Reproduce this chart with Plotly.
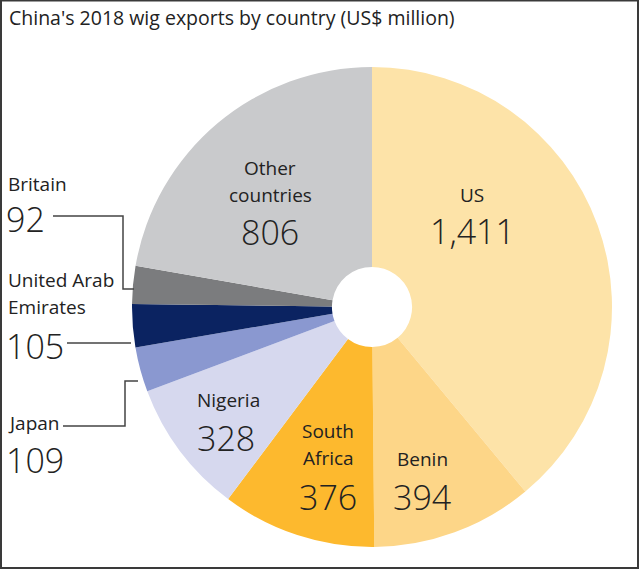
import plotly.graph_objects as go

W, H = 640, 571

countries = ["US", "Benin", "South Africa", "Nigeria", "Japan",
             "United Arab Emirates", "Britain", "Other countries"]
exports = [1411, 394, 376, 328, 109, 105, 92, 806]
colors = ["#FDE3A8", "#FDD688", "#FDB92E", "#D6D8EE", "#8A98D0",
          "#0B2361", "#7B7C7E", "#C9CACC"]

FONT = "Open Sans"
INK = "#222222"


def px(x):
    return x / W


def py(y):
    return 1 - y / H


fig = go.Figure(go.Pie(
    labels=countries, values=exports, sort=False, direction="clockwise",
    rotation=0, hole=0.167, textinfo="none", hoverinfo="label+value",
    marker=dict(colors=colors, line=dict(width=0)),
    domain=dict(x=[px(132), px(612)], y=[py(547), py(67)]),
    showlegend=False,
))

ann = []


def label(x, y, text, size, anchor="center", weight=400):
    ann.append(dict(x=px(x), y=py(y), xref="paper", yref="paper", text=text,
                    showarrow=False, xanchor=anchor, yanchor="middle",
                    font=dict(family=FONT, size=size, color=INK, weight=weight)))


# labels inside slices
label(270, 168, "Other", 19)
label(270, 195, "countries", 19)
label(270, 232, "806", 34, weight=300)
label(472, 195, "US", 19)
label(472, 231, "1,411", 34, weight=300)
label(422, 459, "Benin", 19)
label(422, 497, "394", 34, weight=300)
label(328, 431, "South", 19)
label(328, 458, "Africa", 19)
label(328, 497, "376", 34, weight=300)
label(228, 400, "Nigeria", 19)
label(226, 438, "328", 34, weight=300)

# labels outside
label(6, 184, "Britain", 19, "left")
label(4, 219, "92", 34, "left", 300)
label(6, 280, "United Arab", 19, "left")
label(6, 307, "Emirates", 19, "left")
label(4, 346, "105", 34, "left", 300)
label(6, 423, "Japan", 19, "left")
label(4, 460, "109", 34, "left", 300)

ann.append(dict(x=px(7), y=py(18), xref="paper", yref="paper",
                text="China's 2018 wig exports by country (US$ million)",
                showarrow=False, xanchor="left", yanchor="middle",
                font=dict(family=FONT, size=19.5, color=INK)))

shapes = []


def leader(points):
    path = "M " + " L ".join(f"{px(a)},{py(b)}" for a, b in points)
    shapes.append(dict(type="path", path=path, xref="paper", yref="paper",
                       line=dict(color="#444444", width=1.5)))


leader([(53, 216), (123, 216), (123, 289), (134, 289)])
leader([(67, 343), (131, 343)])
leader([(63, 426), (125, 426), (125, 381), (138, 381)])

# frame
shapes.append(dict(type="rect", xref="paper", yref="paper", x0=px(1), x1=px(638),
                   y0=py(568), y1=py(0.5), line=dict(color="#3a3a3a", width=2)))

fig.update_layout(
    width=W, height=H, margin=dict(l=0, r=0, t=0, b=0),
    paper_bgcolor="white", plot_bgcolor="white",
    annotations=ann, shapes=shapes,
)

fig.write_html("out.html", config={"displayModeBar": False},
               post_script="document.body.style.margin='0';")
